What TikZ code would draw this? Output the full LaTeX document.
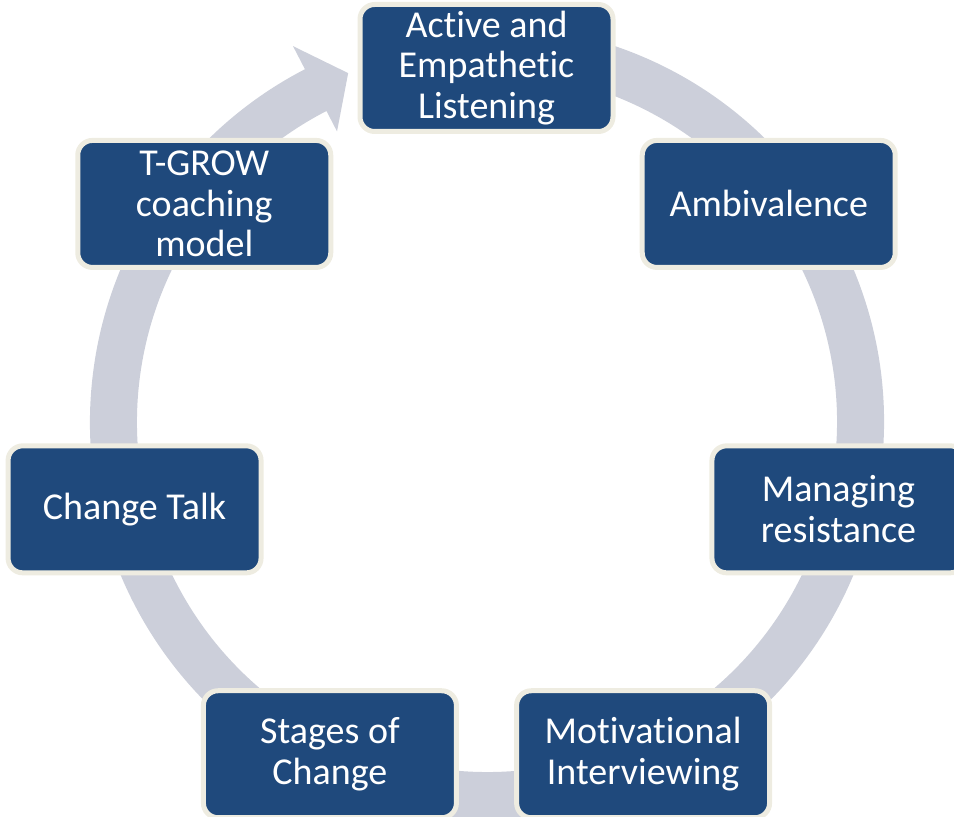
\documentclass[tikz,border=0pt]{standalone}
\usepackage{fontspec}
\setmainfont{Carlito}[Ligatures=NoCommon]
\definecolor{ringgray}{RGB}{204,207,218}
\definecolor{boxblue}{RGB}{31,73,124}
\definecolor{boxedge}{RGB}{238,236,225}
\begin{document}
\begin{tikzpicture}[x=0.75pt,y=0.75pt,
  stagebox/.style={draw=boxedge, line width=3.75pt, fill=boxblue,
    rounded corners=11pt, minimum width=189.75pt, minimum height=95.25pt,
    text=white, align=center, inner sep=2pt,
    font=\fontsize{28.5}{30.5}\selectfont}]
  \useasboundingbox (0,0) rectangle (954,817);
  % circular arrow behind the stages
  \begin{scope}[shift={(487,395)}]
    \fill[ringgray] (80:397) arc[start angle=80, end angle=-242.7, radius=397]
      -- (117.3:423) -- (111.7:375.5) -- (117.3:327)
      -- (117.3:350) arc[start angle=-242.7, end angle=80, radius=350] -- cycle;
  \end{scope}
  % the seven stages
  \begin{scope}[shift={(486.5,388)}]
    \node[stagebox] (listen) at (90:361) {Active and\\Empathetic\\Listening};
    \node[stagebox] (ambiv) at (38.57:361) {Ambivalence};
    \node[stagebox] (resist) at (-12.86:361) {Managing\\resistance};
    \node[stagebox] (motiv) at (-64.29:361) {Motivational\\Interviewing};
    \node[stagebox] (stages) at (-115.71:361) {Stages of\\Change};
    \node[stagebox] (talk) at (-167.14:361) {Change Talk};
    \node[stagebox] (tgrow) at (141.43:361) {T-GROW\\coaching\\model};
  \end{scope}
\end{tikzpicture}
\end{document}
